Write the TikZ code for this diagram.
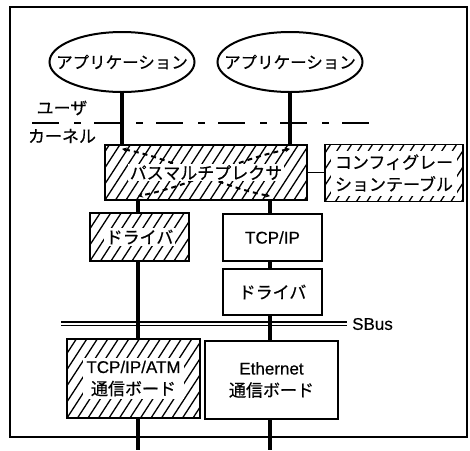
\documentclass[tikz,border=0pt]{standalone}
\usepackage{fontspec}
\setmainfont[FakeBold=0.4]{Liberation Sans}
\newfontfamily\jp[FakeBold=0.5]{Noto Sans CJK JP}
\usetikzlibrary{shapes.geometric,arrows.meta}
\tikzset{
  hatch/.style={path picture={\foreach \k in {-12,...,24}{\draw[line width=1.3pt] ([xshift=\k*10.5pt]path picture bounding box.south west) -- ++(57:130pt);}}},
  box/.style={draw, line width=2.2pt, inner sep=0pt},
  conn/.style={line width=3.2pt},
  jpt/.style={font=\jp\fontsize{17}{22}\selectfont},
  lat/.style={font=\fontsize{17}{22}\selectfont},
  app/.style={draw, ellipse, line width=2pt, inner sep=0pt, minimum width=145pt, minimum height=60pt},
  apptext/.style={inner sep=0pt, font=\jp\fontsize{16.5}{20}\selectfont},
  route/.style={line width=2pt, dash pattern=on 5pt off 4pt, {Stealth[length=5pt,width=5pt]}-{Stealth[length=5pt,width=5pt]}},
  label/.style={fill=white, inner sep=1.5pt},
}
\begin{document}
\begin{tikzpicture}[x=1pt,y=-1pt]
\useasboundingbox (0,0) rectangle (470,450);
\draw[line width=2pt] (10,7) rectangle (467,437);

% applications
\node[app] (app1) at (122,62) {};
\node[apptext] (app1t) at (app1.center) {アプリケーション};
\node[app] (app2) at (290,62) {};
\node[apptext] (app2t) at (app2.center) {アプリケーション};

% user / kernel boundary
\node[jpt] (user) at (62,108) {ユーザ};
\node[jpt] (kern) at (62,136) {カーネル};
\coordinate (dl1) at (32,123);
\coordinate (dl2) at (372,123);
\draw[line width=2.2pt, dash pattern=on 27pt off 15pt on 7pt off 13pt] (dl1) -- (dl2);

% boxes
\node[box, hatch, minimum width=202pt, minimum height=55pt] (mux) at (206,172.5) {};
\node[box, line width=1.8pt, hatch, minimum width=138pt, minimum height=57pt] (cfg) at (394,173) {};
\node[box, hatch, minimum width=99pt, minimum height=48pt] (drvL) at (139.5,237) {};
\node[box, minimum width=99pt, minimum height=47pt, font=\fontsize{17}{22}\selectfont] (tcp) at (272.5,237.5) {TCP/IP};
\node[box, minimum width=99pt, minimum height=46pt, font=\jp\fontsize{17}{22}\selectfont] (drvR) at (272.5,292) {ドライバ};
\node[box, hatch, minimum width=133pt, minimum height=79pt] (atm) at (133.5,378.5) {};
\node[box, minimum width=133pt, minimum height=78pt, align=center, font=\fontsize{17}{22}\selectfont] (eth) at (271.5,380) {Ethernet\\{\jp 通信ボード}};

% column lines
\coordinate (Lb) at (138,450);
\coordinate (Rb) at (270,450);

% routes inside multiplexer
\draw[route] ([yshift=-5pt]app1.south |- mux.north) .. controls +(60,12) and +(-60,-12) .. ([yshift=5pt]Rb |- mux.south);
\draw[route] ([yshift=-5pt]app2.south |- mux.north) .. controls +(-60,12) and +(60,-12) .. ([yshift=5pt]Lb |- mux.south);

% texts on hatched boxes
\node[jpt, label] (muxt) at (mux.center) {パスマルチプレクサ};
\node[jpt, fill=white, inner sep=0pt, minimum width=126pt, minimum height=45pt, align=center] (cfgt) at (cfg.center) {コンフィグレー\\ションテーブル};
\node[jpt, label] (drvLt) at (drvL.center) {ドライバ};
\node[lat, label, align=center, inner sep=3pt] (atmt) at (atm.center) {TCP/IP/ATM\\{\jp 通信ボード}};

% SBus
\coordinate (sb1) at (61,323.5);
\coordinate (sb2) at (347,323.5);
\draw[double, line width=1.3pt, double distance=2pt] (sb1) -- (sb2);
\node[lat, anchor=west, inner sep=0pt] (sbl) at (352,324) {SBus};

% connectors
\draw[conn] (app1.south) -- (app1.south |- mux.north);
\draw[conn] (app2.south) -- (app2.south |- mux.north);
\draw[line width=1.8pt] (mux.east) -- (mux.east -| cfg.west);
\draw[conn] (Lb |- mux.south) -- (Lb |- drvL.north);
\draw[conn] (Lb |- drvL.south) -- (Lb |- atm.north);
\draw[conn] (Lb |- atm.south) -- (Lb);
\draw[conn] (Rb |- mux.south) -- (Rb |- tcp.north);
\draw[conn] (Rb |- tcp.south) -- (Rb |- drvR.north);
\draw[conn] (Rb |- drvR.south) -- (Rb |- eth.north);
\draw[conn] (Rb |- eth.south) -- (Rb);
\end{tikzpicture}
\end{document}
